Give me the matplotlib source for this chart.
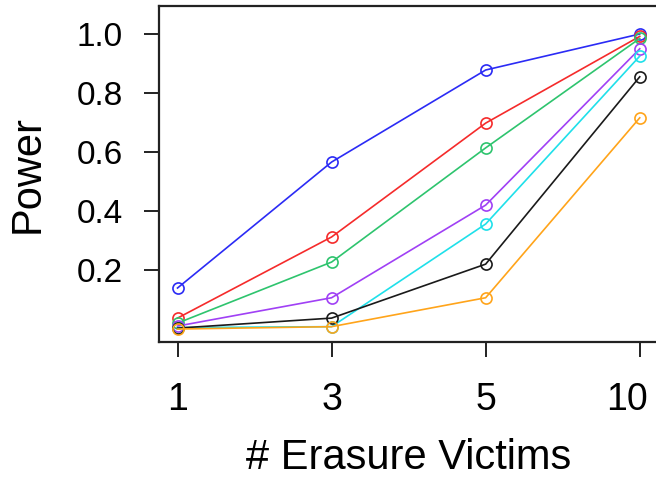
import matplotlib
matplotlib.use("Agg")
import matplotlib.pyplot as plt
from matplotlib.transforms import ScaledTranslation

plt.rcParams["font.family"] = ["Liberation Sans", "DejaVu Sans"]

x_labels = ["1", "3", "5", "10"]
series_colors = ["#2B2BF5", "#F52B2B", "#2EC46E", "#A040F5", "#1FE0EA", "#1A1A1A", "#FFA41A"]
power = [
    [0.139, 0.566, 0.878, 1.000],
    [0.037, 0.312, 0.698, 0.992],
    [0.020, 0.227, 0.614, 0.985],
    [0.010, 0.106, 0.420, 0.950],
    [0.005, 0.008, 0.356, 0.925],
    [0.003, 0.037, 0.220, 0.855],
    [0.000, 0.008, 0.106, 0.716],
]

fig = plt.figure(figsize=(6.56, 4.79), dpi=100)
ax = fig.add_axes([0.2424, 0.286, 0.761, 0.7015])

xs = list(range(1, len(x_labels) + 1))
for vals, col in zip(power, series_colors):
    ax.plot(xs, vals, color=col, lw=1.2, marker="o", ms=8, mfc="none",
            mec=col, mew=1.2)

ax.set_xlim(1 - 0.12, 4 + 0.12)
ax.set_ylim(-0.044, 1.095)
ax.set_xticks(xs)
ax.set_xticklabels(x_labels)
ax.set_yticks([0.2, 0.4, 0.6, 0.8, 1.0])
ax.set_yticklabels(["0.2", "0.4", "0.6", "0.8", "1.0"])

for s in ax.spines.values():
    s.set_linewidth(1.6)
    s.set_color("#222222")

ax.tick_params(axis="both", length=11, width=1.4, color="#222222")
ax.tick_params(axis="y", labelsize=24, pad=15)
ax.tick_params(axis="x", labelsize=27, pad=18)

# last label sits at the cropped right edge, nudge it in
last = ax.get_xticklabels()[-1]
last.set_transform(last.get_transform() + ScaledTranslation(-9 / 72, 0, fig.dpi_scale_trans))

ax.set_xlabel("# Erasure Victims", fontsize=30, labelpad=14)
ax.set_ylabel("Power", fontsize=30, labelpad=21)

fig.savefig("out.png", dpi=100)
